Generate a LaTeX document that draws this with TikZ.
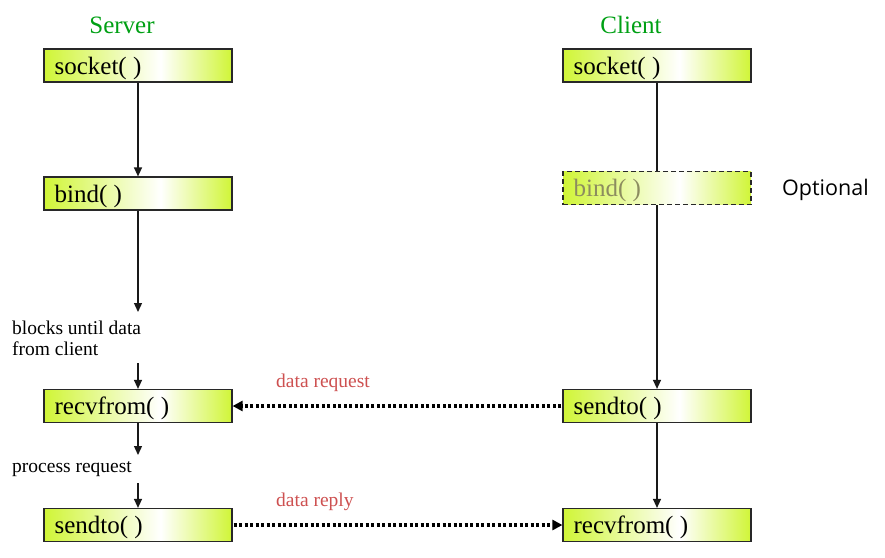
\documentclass[tikz,border=0pt]{standalone}
\usepackage{fontspec}
\setmainfont{Liberation Serif}
\newfontfamily\serf{Liberation Serif}
\newfontfamily\optfont{Open Sans}
\usetikzlibrary{arrows.meta}
\definecolor{boxg}{RGB}{208,245,55}
\definecolor{titleg}{RGB}{0,160,20}
\definecolor{msgred}{RGB}{205,80,80}
\definecolor{optgray}{RGB}{140,140,95}
\definecolor{edgegray}{RGB}{40,40,40}
\pgfdeclarehorizontalshading{boxshade}{100bp}{color(0bp)=(boxg); color(25bp)=(boxg); color(56bp)=(white); color(75bp)=(boxg); color(100bp)=(boxg)}
\tikzset{
  callbox/.style={draw=edgegray, line width=1.2pt, shading=boxshade, minimum width=188pt, minimum height=33pt, inner sep=0pt},
  calllabel/.style={anchor=west, inner sep=0pt, text height=22pt, text depth=5pt, font=\serf\fontsize{25}{30}\selectfont},
  title/.style={text=titleg, font=\serf\fontsize{25}{30}\selectfont},
  note/.style={font=\serf\fontsize{19.5}{22}\selectfont, inner sep=0pt},
  msg/.style={text=msgred, font=\serf\fontsize{19.5}{22}\selectfont, inner sep=0pt},
  flow/.style={line width=1.3pt, draw=black!90},
  flowarr/.style={flow, -{Triangle[length=9pt,width=8pt]}},
  dotarr/.style={line width=3.5pt, dash pattern=on 3pt off 2.5pt, -{Triangle[length=10pt,width=10pt]}, shorten <=1pt}
}
\begin{document}
\begin{tikzpicture}[x=1pt,y=1pt]
\useasboundingbox (0,0) rectangle (885,-557);
% titles
\node[title] (tserv) at (122,-25) {Server};
\node[title] (tcli) at (631,-25) {Client};
% server boxes
\node[callbox] (ssock) at (138,-65.5) {};
\node[callbox] (sbind) at (138,-193.5) {};
\node[callbox] (srecv) at (138,-406) {};
\node[callbox] (ssend) at (138,-525) {};
% client boxes
\node[callbox] (csock) at (657,-65.5) {};
\node[callbox, dash pattern=on 5pt off 3pt] (cbind) at (657,-188) {};
\node[callbox] (csend) at (657,-406) {};
\node[callbox] (crecv) at (657,-525) {};
% box labels
\node[calllabel] (lssock) at ([xshift=11pt]ssock.west) {socket( )};
\node[calllabel] (lsbind) at ([xshift=11pt]sbind.west) {bind( )};
\node[calllabel] (lsrecv) at ([xshift=11pt]srecv.west) {recvfrom( )};
\node[calllabel] (lssend) at ([xshift=11pt]ssend.west) {sendto( )};
\node[calllabel] (lcsock) at ([xshift=11pt]csock.west) {socket( )};
\node[calllabel, text=optgray] (lcbind) at ([xshift=11pt]cbind.west) {bind( )};
\node[calllabel] (lcsend) at ([xshift=11pt]csend.west) {sendto( )};
\node[calllabel] (lcrecv) at ([xshift=11pt]crecv.west) {recvfrom( )};
\node[font=\optfont\fontsize{21.5}{26}\selectfont, anchor=west, inner sep=0pt] (opt) at (782,-190) {Optional};
% notes
\node[note, anchor=base west] (nblock1) at (12,-334) {blocks until data};
\node[note, anchor=base west] (nblock2) at (12,-355) {from client};
\node[note, anchor=base west] (nproc) at (12,-472) {process request};
\node[msg, anchor=base west] (mreq) at (276,-387) {data request};
\node[msg, anchor=base west] (mrep) at (276,-506) {data reply};
% coordinates
\coordinate (a1) at (138,-312);
\coordinate (a2) at (138,-363);
\coordinate (a3) at (138,-455);
\coordinate (a4) at (138,-483);
% server flow
\draw[flowarr] (ssock.south) -- (sbind.north);
\draw[flowarr] (sbind.south) -- (a1);
\draw[flowarr] (a2) -- (srecv.north);
\draw[flowarr] (srecv.south) -- (a3);
\draw[flowarr] (a4) -- (ssend.north);
% client flow
\draw[flow] (csock.south) -- (cbind.north);
\draw[flowarr] (cbind.south) -- (csend.north);
\draw[flowarr] (csend.south) -- (crecv.north);
% messages
\draw[dotarr] (csend.west) -- (srecv.east);
\draw[dotarr] (ssend.east) -- (crecv.west);
\end{tikzpicture}
\end{document}
